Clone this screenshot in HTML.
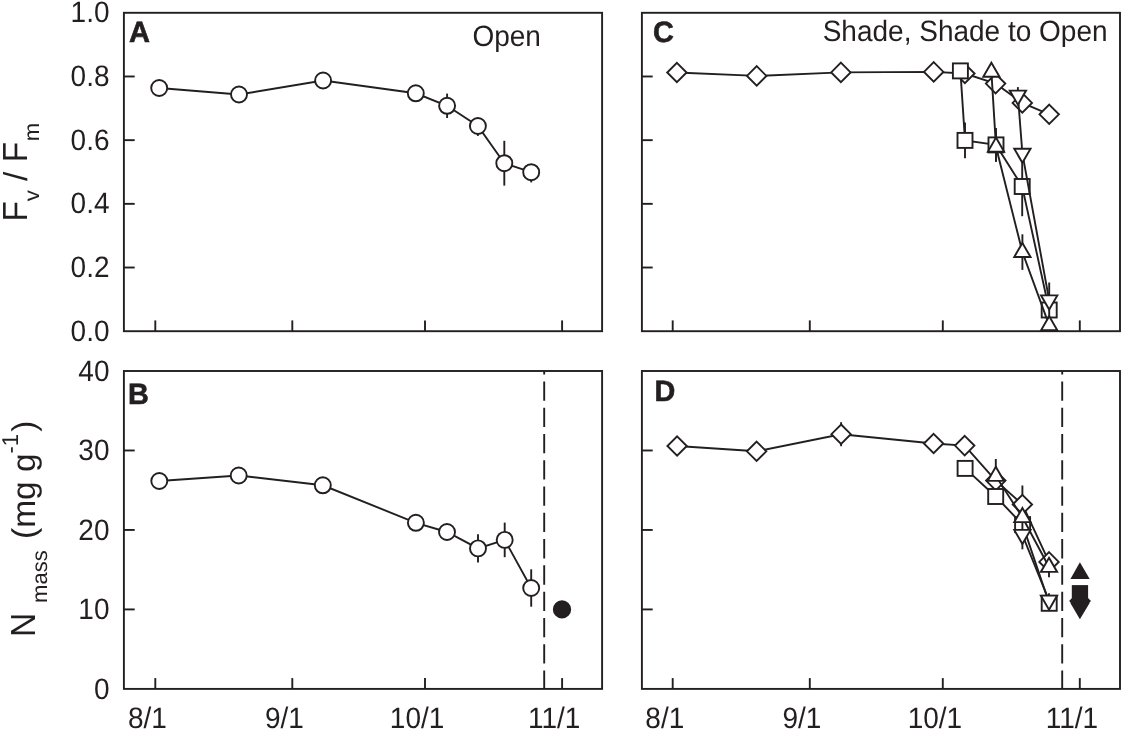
<!DOCTYPE html>
<html lang="en">
<head>
<meta charset="utf-8">
<title>Figure</title>
<style>
html,body{margin:0;padding:0;background:#fff;}
body{width:1122px;height:729px;overflow:hidden;}
svg{display:block;}
text{white-space:pre;}
</style>
</head>
<body>
<svg width="1122" height="729" viewBox="0 0 1122 729">
<rect x="0" y="0" width="1122" height="729" fill="#fff"/>
<g stroke="#231f20" fill="none" stroke-linecap="butt" stroke-linejoin="miter">
<rect x="123.90" y="12.80" width="478.20" height="318.40" fill="none" stroke-width="1.9"/>
<rect x="123.90" y="371.00" width="478.20" height="317.90" fill="none" stroke-width="1.9"/>
<rect x="641.90" y="12.80" width="478.10" height="318.40" fill="none" stroke-width="1.9"/>
<rect x="641.90" y="371.00" width="478.10" height="317.90" fill="none" stroke-width="1.9"/>
<line x1="123.90" y1="76.48" x2="134.70" y2="76.48" stroke-width="1.9"/>
<line x1="123.90" y1="140.16" x2="134.70" y2="140.16" stroke-width="1.9"/>
<line x1="123.90" y1="203.84" x2="134.70" y2="203.84" stroke-width="1.9"/>
<line x1="123.90" y1="267.52" x2="134.70" y2="267.52" stroke-width="1.9"/>
<line x1="641.90" y1="76.48" x2="652.70" y2="76.48" stroke-width="1.9"/>
<line x1="641.90" y1="140.16" x2="652.70" y2="140.16" stroke-width="1.9"/>
<line x1="641.90" y1="203.84" x2="652.70" y2="203.84" stroke-width="1.9"/>
<line x1="641.90" y1="267.52" x2="652.70" y2="267.52" stroke-width="1.9"/>
<line x1="123.90" y1="450.48" x2="134.70" y2="450.48" stroke-width="1.9"/>
<line x1="123.90" y1="529.95" x2="134.70" y2="529.95" stroke-width="1.9"/>
<line x1="123.90" y1="609.42" x2="134.70" y2="609.42" stroke-width="1.9"/>
<line x1="641.90" y1="450.48" x2="652.70" y2="450.48" stroke-width="1.9"/>
<line x1="641.90" y1="529.95" x2="652.70" y2="529.95" stroke-width="1.9"/>
<line x1="641.90" y1="609.42" x2="652.70" y2="609.42" stroke-width="1.9"/>
<line x1="155.30" y1="331.20" x2="155.30" y2="320.40" stroke-width="1.9"/>
<line x1="292.30" y1="331.20" x2="292.30" y2="320.40" stroke-width="1.9"/>
<line x1="425.00" y1="331.20" x2="425.00" y2="320.40" stroke-width="1.9"/>
<line x1="562.10" y1="331.20" x2="562.10" y2="320.40" stroke-width="1.9"/>
<line x1="155.30" y1="688.90" x2="155.30" y2="678.10" stroke-width="1.9"/>
<line x1="292.30" y1="688.90" x2="292.30" y2="678.10" stroke-width="1.9"/>
<line x1="425.00" y1="688.90" x2="425.00" y2="678.10" stroke-width="1.9"/>
<line x1="562.10" y1="688.90" x2="562.10" y2="678.10" stroke-width="1.9"/>
<line x1="672.70" y1="331.20" x2="672.70" y2="320.40" stroke-width="1.9"/>
<line x1="809.80" y1="331.20" x2="809.80" y2="320.40" stroke-width="1.9"/>
<line x1="942.80" y1="331.20" x2="942.80" y2="320.40" stroke-width="1.9"/>
<line x1="1079.80" y1="331.20" x2="1079.80" y2="320.40" stroke-width="1.9"/>
<line x1="672.70" y1="688.90" x2="672.70" y2="678.10" stroke-width="1.9"/>
<line x1="809.80" y1="688.90" x2="809.80" y2="678.10" stroke-width="1.9"/>
<line x1="942.80" y1="688.90" x2="942.80" y2="678.10" stroke-width="1.9"/>
<line x1="1079.80" y1="688.90" x2="1079.80" y2="678.10" stroke-width="1.9"/>
<line x1="544.20" y1="371.00" x2="544.20" y2="688.90" stroke-width="1.9" stroke-dasharray="19.3 6.97" stroke-dashoffset="15.8"/>
<line x1="1062.20" y1="371.00" x2="1062.20" y2="688.90" stroke-width="1.9" stroke-dasharray="19.3 6.97" stroke-dashoffset="15.8"/>
<polyline points="159.20,88.00 239.00,94.50 323.10,80.50 415.80,93.30 447.10,105.80 477.90,126.00 504.30,163.20 531.20,172.20" fill="none" stroke-width="1.9"/>
<line x1="447.10" y1="93.60" x2="447.10" y2="118.00" stroke-width="1.9"/>
<line x1="477.90" y1="118.00" x2="477.90" y2="135.90" stroke-width="1.9"/>
<line x1="504.30" y1="140.80" x2="504.30" y2="185.60" stroke-width="1.9"/>
<line x1="531.20" y1="164.20" x2="531.20" y2="182.40" stroke-width="1.9"/>
<circle cx="159.20" cy="88.00" r="8.0" fill="#fff" stroke-width="1.9"/>
<circle cx="239.00" cy="94.50" r="8.0" fill="#fff" stroke-width="1.9"/>
<circle cx="323.10" cy="80.50" r="8.0" fill="#fff" stroke-width="1.9"/>
<circle cx="415.80" cy="93.30" r="8.0" fill="#fff" stroke-width="1.9"/>
<circle cx="447.10" cy="105.80" r="8.0" fill="#fff" stroke-width="1.9"/>
<circle cx="477.90" cy="126.00" r="8.0" fill="#fff" stroke-width="1.9"/>
<circle cx="504.30" cy="163.20" r="8.0" fill="#fff" stroke-width="1.9"/>
<circle cx="531.20" cy="172.20" r="8.0" fill="#fff" stroke-width="1.9"/>
<polyline points="159.30,481.00 238.70,475.50 322.80,485.30 415.90,522.80 447.00,532.00 478.00,548.40 504.70,539.90 531.20,588.00" fill="none" stroke-width="1.9"/>
<line x1="478.00" y1="534.20" x2="478.00" y2="562.60" stroke-width="1.9"/>
<line x1="504.70" y1="522.60" x2="504.70" y2="557.20" stroke-width="1.9"/>
<line x1="531.20" y1="569.30" x2="531.20" y2="606.70" stroke-width="1.9"/>
<circle cx="159.30" cy="481.00" r="8.0" fill="#fff" stroke-width="1.9"/>
<circle cx="238.70" cy="475.50" r="8.0" fill="#fff" stroke-width="1.9"/>
<circle cx="322.80" cy="485.30" r="8.0" fill="#fff" stroke-width="1.9"/>
<circle cx="415.90" cy="522.80" r="8.0" fill="#fff" stroke-width="1.9"/>
<circle cx="447.00" cy="532.00" r="8.0" fill="#fff" stroke-width="1.9"/>
<circle cx="478.00" cy="548.40" r="8.0" fill="#fff" stroke-width="1.9"/>
<circle cx="504.70" cy="539.90" r="8.0" fill="#fff" stroke-width="1.9"/>
<circle cx="531.20" cy="588.00" r="8.0" fill="#fff" stroke-width="1.9"/>
<circle cx="562.00" cy="609.40" r="8.2" fill="#231f20" stroke-width="1.9"/>
<polyline points="676.90,72.50 756.70,75.90 840.90,72.40 933.70,71.90 964.90,73.50 995.60,83.60 1022.30,102.90 1049.20,114.30" fill="none" stroke-width="1.9"/>
<polygon points="676.90,62.80 686.60,72.50 676.90,82.20 667.20,72.50" fill="#fff" stroke-width="1.9"/>
<polygon points="756.70,66.20 766.40,75.90 756.70,85.60 747.00,75.90" fill="#fff" stroke-width="1.9"/>
<polygon points="840.90,62.70 850.60,72.40 840.90,82.10 831.20,72.40" fill="#fff" stroke-width="1.9"/>
<polygon points="933.70,62.20 943.40,71.90 933.70,81.60 924.00,71.90" fill="#fff" stroke-width="1.9"/>
<polygon points="964.90,63.80 974.60,73.50 964.90,83.20 955.20,73.50" fill="#fff" stroke-width="1.9"/>
<polygon points="995.60,73.90 1005.30,83.60 995.60,93.30 985.90,83.60" fill="#fff" stroke-width="1.9"/>
<polygon points="1022.30,93.20 1032.00,102.90 1022.30,112.60 1012.60,102.90" fill="#fff" stroke-width="1.9"/>
<polygon points="1049.20,104.60 1058.90,114.30 1049.20,124.00 1039.50,114.30" fill="#fff" stroke-width="1.9"/>
<polyline points="960.40,70.90 965.00,140.40 996.00,144.90 1022.20,186.50 1049.20,310.00" fill="none" stroke-width="1.9"/>
<line x1="965.00" y1="122.60" x2="965.00" y2="158.20" stroke-width="1.9"/>
<line x1="996.00" y1="128.00" x2="996.00" y2="161.80" stroke-width="1.9"/>
<line x1="1022.20" y1="156.80" x2="1022.20" y2="216.20" stroke-width="1.9"/>
<rect x="952.90" y="63.40" width="15.0" height="15.0" fill="#fff" stroke-width="1.9"/>
<rect x="957.50" y="132.90" width="15.0" height="15.0" fill="#fff" stroke-width="1.9"/>
<rect x="988.50" y="137.40" width="15.0" height="15.0" fill="#fff" stroke-width="1.9"/>
<rect x="1014.70" y="179.00" width="15.0" height="15.0" fill="#fff" stroke-width="1.9"/>
<rect x="1041.70" y="302.50" width="15.0" height="15.0" fill="#fff" stroke-width="1.9"/>
<polyline points="991.40,71.90 996.00,146.80 1022.40,252.10 1049.20,325.40" fill="none" stroke-width="1.9"/>
<line x1="996.00" y1="131.80" x2="996.00" y2="161.80" stroke-width="1.9"/>
<line x1="1022.40" y1="234.30" x2="1022.40" y2="269.90" stroke-width="1.9"/>
<line x1="1049.20" y1="308.40" x2="1049.20" y2="325.40" stroke-width="1.9"/>
<polygon points="991.40,62.70 999.55,76.80 983.25,76.80" fill="#fff" stroke-width="1.9"/>
<polygon points="996.00,137.60 1004.15,151.70 987.85,151.70" fill="#fff" stroke-width="1.9"/>
<polygon points="1022.40,242.90 1030.55,257.00 1014.25,257.00" fill="#fff" stroke-width="1.9"/>
<polygon points="1049.20,316.20 1057.35,330.30 1041.05,330.30" fill="#fff" stroke-width="1.9"/>
<polyline points="1017.90,95.50 1022.40,153.60 1049.20,300.30" fill="none" stroke-width="1.9"/>
<line x1="1017.90" y1="87.10" x2="1017.90" y2="95.50" stroke-width="1.9"/>
<line x1="1049.20" y1="282.50" x2="1049.20" y2="300.30" stroke-width="1.9"/>
<polygon points="1017.90,104.70 1026.05,90.60 1009.75,90.60" fill="#fff" stroke-width="1.9"/>
<polygon points="1022.40,162.80 1030.55,148.70 1014.25,148.70" fill="#fff" stroke-width="1.9"/>
<polygon points="1049.20,309.50 1057.35,295.40 1041.05,295.40" fill="#fff" stroke-width="1.9"/>
<polyline points="677.10,446.00 756.60,451.30 841.10,434.20 933.60,443.50 964.70,445.60 995.80,480.60 1022.40,504.50 1049.00,561.90" fill="none" stroke-width="1.9"/>
<line x1="841.10" y1="422.20" x2="841.10" y2="446.20" stroke-width="1.9"/>
<line x1="1022.40" y1="485.50" x2="1022.40" y2="523.50" stroke-width="1.9"/>
<polygon points="677.10,436.30 686.80,446.00 677.10,455.70 667.40,446.00" fill="#fff" stroke-width="1.9"/>
<polygon points="756.60,441.60 766.30,451.30 756.60,461.00 746.90,451.30" fill="#fff" stroke-width="1.9"/>
<polygon points="841.10,424.50 850.80,434.20 841.10,443.90 831.40,434.20" fill="#fff" stroke-width="1.9"/>
<polygon points="933.60,433.80 943.30,443.50 933.60,453.20 923.90,443.50" fill="#fff" stroke-width="1.9"/>
<polygon points="964.70,435.90 974.40,445.60 964.70,455.30 955.00,445.60" fill="#fff" stroke-width="1.9"/>
<polygon points="995.80,470.90 1005.50,480.60 995.80,490.30 986.10,480.60" fill="#fff" stroke-width="1.9"/>
<polygon points="1022.40,494.80 1032.10,504.50 1022.40,514.20 1012.70,504.50" fill="#fff" stroke-width="1.9"/>
<polygon points="1049.00,552.20 1058.70,561.90 1049.00,571.60 1039.30,561.90" fill="#fff" stroke-width="1.9"/>
<polyline points="965.10,468.40 995.70,496.50 1022.60,524.60 1049.20,603.30" fill="none" stroke-width="1.9"/>
<rect x="957.60" y="460.90" width="15.0" height="15.0" fill="#fff" stroke-width="1.9"/>
<rect x="988.20" y="489.00" width="15.0" height="15.0" fill="#fff" stroke-width="1.9"/>
<rect x="1015.10" y="517.10" width="15.0" height="15.0" fill="#fff" stroke-width="1.9"/>
<rect x="1041.70" y="595.80" width="15.0" height="15.0" fill="#fff" stroke-width="1.9"/>
<polyline points="995.80,476.00 1022.40,517.20 1049.00,567.00" fill="none" stroke-width="1.9"/>
<line x1="995.80" y1="459.00" x2="995.80" y2="476.00" stroke-width="1.9"/>
<line x1="1022.40" y1="517.20" x2="1022.40" y2="529.20" stroke-width="1.9"/>
<line x1="1049.00" y1="567.00" x2="1049.00" y2="577.20" stroke-width="1.9"/>
<polygon points="995.80,466.80 1003.95,480.90 987.65,480.90" fill="#fff" stroke-width="1.9"/>
<polygon points="1022.40,508.00 1030.55,522.10 1014.25,522.10" fill="#fff" stroke-width="1.9"/>
<polygon points="1049.00,557.80 1057.15,571.90 1040.85,571.90" fill="#fff" stroke-width="1.9"/>
<polyline points="1022.40,534.80 1049.00,600.50" fill="none" stroke-width="1.9"/>
<line x1="1022.40" y1="534.80" x2="1022.40" y2="549.30" stroke-width="1.9"/>
<line x1="1049.00" y1="593.30" x2="1049.00" y2="600.50" stroke-width="1.9"/>
<polygon points="1022.40,544.00 1030.55,529.90 1014.25,529.90" fill="#fff" stroke-width="1.9"/>
<polygon points="1049.00,609.70 1057.15,595.60 1040.85,595.60" fill="#fff" stroke-width="1.9"/>
<g stroke="none">
<polygon points="1079.90,562.20 1089.70,578.90 1070.40,578.90" fill="#231f20" stroke-width="0"/>
<polygon points="1071.80,585.10 1088.10,585.10 1088.10,601.30 1071.80,601.30" fill="#231f20" stroke-width="0"/>
<polygon points="1080.00,590.00 1091.00,601.00 1080.00,612.00 1069.10,601.00" fill="#231f20" stroke-width="0"/>
<polygon points="1079.90,619.30 1070.20,602.80 1089.80,602.80" fill="#231f20" stroke-width="0"/>
</g>
</g>
<g fill="#231f20" text-rendering="geometricPrecision" font-family='"Liberation Sans", Arial, Helvetica, sans-serif'>
<text transform="translate(109.50,22.40) scale(1.0,1.055)" font-size="28" text-anchor="end">1.0</text>
<text transform="translate(109.50,86.08) scale(1.0,1.055)" font-size="28" text-anchor="end">0.8</text>
<text transform="translate(109.50,149.76) scale(1.0,1.055)" font-size="28" text-anchor="end">0.6</text>
<text transform="translate(109.50,213.44) scale(1.0,1.055)" font-size="28" text-anchor="end">0.4</text>
<text transform="translate(109.50,277.12) scale(1.0,1.055)" font-size="28" text-anchor="end">0.2</text>
<text transform="translate(109.50,340.80) scale(1.0,1.055)" font-size="28" text-anchor="end">0.0</text>
<text transform="translate(109.50,380.70) scale(1.0,1.055)" font-size="28" text-anchor="end">40</text>
<text transform="translate(109.50,460.18) scale(1.0,1.055)" font-size="28" text-anchor="end">30</text>
<text transform="translate(109.50,539.65) scale(1.0,1.055)" font-size="28" text-anchor="end">20</text>
<text transform="translate(109.50,619.12) scale(1.0,1.055)" font-size="28" text-anchor="end">10</text>
<text transform="translate(109.50,698.60) scale(1.0,1.055)" font-size="28" text-anchor="end">0</text>
<text transform="translate(147.40,727.50) scale(1.0,1.055)" font-size="28" text-anchor="middle">8/1</text>
<text transform="translate(284.40,727.50) scale(1.0,1.055)" font-size="28" text-anchor="middle">9/1</text>
<text transform="translate(417.10,727.50) scale(1.0,1.055)" font-size="28" text-anchor="middle">10/1</text>
<text transform="translate(554.20,727.50) scale(1.0,1.055)" font-size="28" text-anchor="middle">11/1</text>
<text transform="translate(664.80,727.50) scale(1.0,1.055)" font-size="28" text-anchor="middle">8/1</text>
<text transform="translate(801.90,727.50) scale(1.0,1.055)" font-size="28" text-anchor="middle">9/1</text>
<text transform="translate(934.90,727.50) scale(1.0,1.055)" font-size="28" text-anchor="middle">10/1</text>
<text transform="translate(1071.90,727.50) scale(1.0,1.055)" font-size="28" text-anchor="middle">11/1</text>
<text transform="translate(128.90,41.60) scale(1.02,1.03)" font-size="28.5" text-anchor="start" font-weight="bold" stroke="#231f20" stroke-width="0.6">A</text>
<text transform="translate(128.10,403.70) scale(1.01,1.03)" font-size="28.5" text-anchor="start" font-weight="bold" stroke="#231f20" stroke-width="0.6">B</text>
<text transform="translate(652.90,41.60) scale(1.01,1.03)" font-size="28.5" text-anchor="start" font-weight="bold" stroke="#231f20" stroke-width="0.6">C</text>
<text transform="translate(654.60,401.10) scale(1.01,1.03)" font-size="28.5" text-anchor="start" font-weight="bold" stroke="#231f20" stroke-width="0.6">D</text>
<text transform="translate(540.90,45.50) scale(1.0,1.05)" font-size="28" text-anchor="end">Open</text>
<text transform="translate(1107.60,41.10) scale(1.0,1.05)" font-size="28" text-anchor="end">Shade, Shade to Open</text>
<text transform="translate(27.20,221.60) rotate(-90) scale(1,1.04)" font-size="33.5">F</text>
<text transform="translate(38.70,201.30) rotate(-90) scale(1,0.98)" font-size="22">v</text>
<text transform="translate(27.20,180.90) rotate(-90) scale(1,0.99)" font-size="33.5">/</text>
<text transform="translate(27.20,162.20) rotate(-90) scale(1,1.04)" font-size="33.5">F</text>
<text transform="translate(39.20,141.20) rotate(-90) scale(1,0.98)" font-size="22">m</text>
<text transform="translate(35.10,637.10) rotate(-90) scale(1,1.04)" font-size="33.5">N</text>
<text transform="translate(46.90,602.90) rotate(-90) scale(1,0.98)" font-size="22">mass</text>
<text transform="translate(35.10,539.00) rotate(-90) scale(1,0.98)" font-size="33.5">(mg g</text>
<text transform="translate(18.40,453.50) rotate(-90) scale(1,1.04)" font-size="22">-1</text>
<text transform="translate(35.10,431.80) rotate(-90) scale(1,0.98)" font-size="33.5">)</text>
</g>
</svg>
</body>
</html>
